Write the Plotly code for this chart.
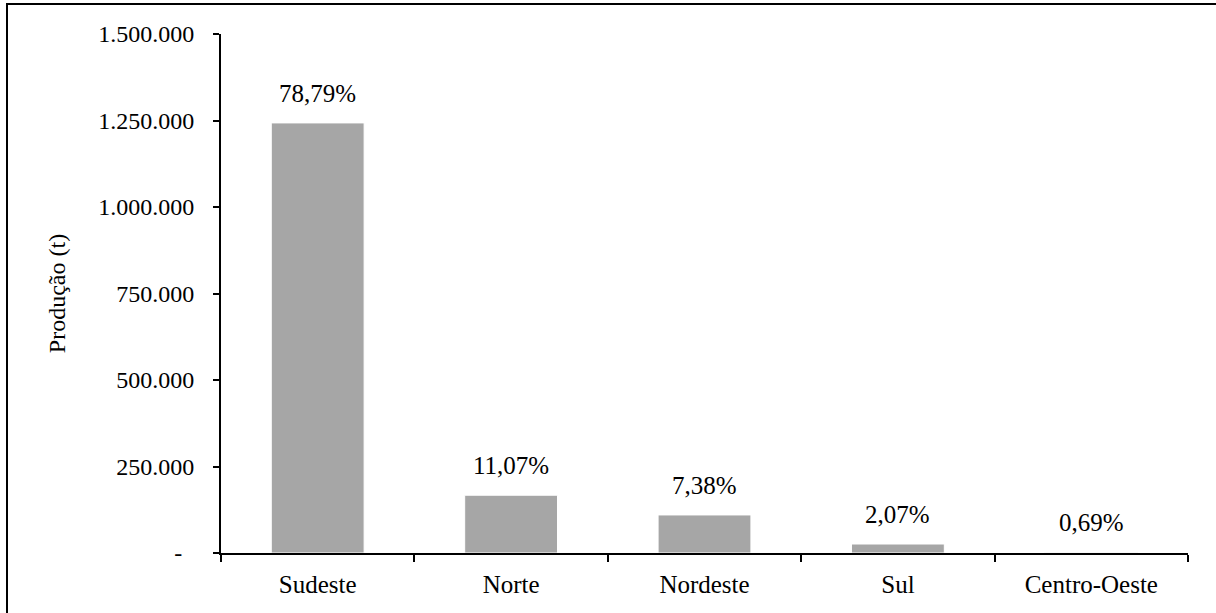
import plotly.graph_objects as go

# Production by region (tonnes) and share of national total
regioes = ["Sudeste", "Norte", "Nordeste", "Sul", "Centro-Oeste"]
producao_t = [1243000, 167000, 110000, 26000, 2000]
participacao = ["78,79%", "11,07%", "7,38%", "2,07%", "0,69%"]

y_tickvals = [0, 250000, 500000, 750000, 1000000, 1250000, 1500000]
y_ticktext = ["-\u00a0\u00a0", "250.000", "500.000", "750.000",
              "1.000.000", "1.250.000", "1.500.000"]

FONT = "Liberation Serif"
W, H = 1216, 613
ML, MR, MT, MB = 221, 28, 34, 60

fig = go.Figure()
fig.add_trace(go.Bar(
    x=regioes,
    y=producao_t,
    width=0.48,
    marker=dict(color="#a6a6a6", line=dict(color="white", width=1)),
    hoverinfo="x+y",
))

for reg, val, txt in zip(regioes, producao_t, participacao):
    fig.add_annotation(
        x=reg, y=val, text=txt, showarrow=False,
        yanchor="bottom", yshift=14,
        font=dict(family=FONT, size=25, color="black"),
    )

# outer frame around the chart
pw = W - ML - MR
ph = H - MT - MB
def px_x(p):
    return (p - ML) / pw
def px_y(p):
    return (H - MB - p) / ph

fig.add_shape(
    type="rect", xref="paper", yref="paper",
    x0=px_x(7), x1=px_x(W + 20), y0=px_y(H + 20), y1=px_y(4),
    line=dict(color="black", width=2), fillcolor="rgba(0,0,0,0)",
    layer="below",
)

fig.update_layout(
    width=W, height=H,
    margin=dict(l=ML, r=MR, t=MT, b=MB, pad=0),
    paper_bgcolor="white", plot_bgcolor="white",
    showlegend=False,
    font=dict(family=FONT, size=24, color="black"),
    bargap=0.52,
)
fig.update_xaxes(
    type="category",
    showline=True, linecolor="black", linewidth=2,
    ticks="outside", tickson="boundaries", ticklen=7, tickwidth=2,
    tickcolor="black", showgrid=False, zeroline=False,
    tickfont=dict(family=FONT, size=25, color="black"),
    ticklabelstandoff=8,
)
fig.update_yaxes(
    range=[0, 1500000],
    tickvals=y_tickvals, ticktext=y_ticktext,
    showline=True, linecolor="black", linewidth=2,
    ticks="outside", ticklen=6, tickwidth=2, tickcolor="black",
    showgrid=False, zeroline=False,
    tickfont=dict(family=FONT, size=24, color="black"),
    ticklabelstandoff=14,
    title=dict(text="Produção (t)", font=dict(family=FONT, size=24, color="black"),
               standoff=26),
)

fig.write_html("out.html")
